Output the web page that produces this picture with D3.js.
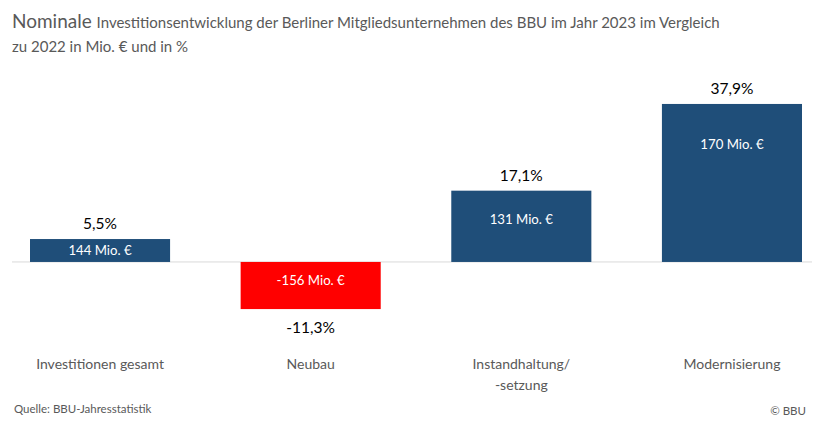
<!DOCTYPE html>
<html>
<head>
<meta charset="utf-8">
<script src="https://cdn.jsdelivr.net/npm/d3@7/dist/d3.min.js"></script>
<style>
  body { margin: 0; background: #fff; }
  svg { display: block; font-family: Lato, "Open Sans", sans-serif; }
</style>
</head>
<body>
<svg id="chart" width="826" height="424"></svg>
<script>
const categories = [["Investitionen gesamt"], ["Neubau"], ["Instandhaltung/", "-setzung"], ["Modernisierung"]];
const percentChange = [5.5, -11.3, 17.1, 37.9];
const percentLabels = ["5,5%", "-11,3%", "17,1%", "37,9%"];
const amountLabels = ["144 Mio. €", "-156 Mio. €", "131 Mio. €", "170 Mio. €"];

const svg = d3.select("#chart");

const x = d3.scaleBand()
  .domain(d3.range(categories.length))
  .range([30, 802])
  .paddingInner(0.335)
  .paddingOuter(0);

const y = d3.scaleLinear().domain([-15, 40]).range([324.5, 95.2]);

// Title
const title = svg.append("text").attr("x", 12).attr("y", 28).attr("fill", "#595959");
title.append("tspan").attr("font-size", 19).text("Nominale ");
title.append("tspan").attr("font-size", 15).text("Investitionsentwicklung der Berliner Mitgliedsunternehmen des BBU im Jahr 2023 im Vergleich");
svg.append("text").attr("x", 12).attr("y", 52).attr("fill", "#595959").attr("font-size", 15)
  .text("zu 2022 in Mio. € und in %");

// zero line
svg.append("line")
  .attr("x1", 12).attr("x2", 812)
  .attr("y1", y(0)).attr("y2", y(0))
  .attr("stroke", "#d9d9d9").attr("stroke-width", 1);

const data = percentChange.map((v, i) => ({ i, v }));

svg.selectAll("rect.bar").data(data).join("rect")
  .attr("class", "bar")
  .attr("x", d => x(d.i))
  .attr("width", x.bandwidth())
  .attr("y", d => Math.min(y(d.v), y(0)))
  .attr("height", d => Math.abs(y(d.v) - y(0)))
  .attr("fill", d => d.v < 0 ? "#ff0000" : "#1f4e79");

// percent labels
svg.selectAll("text.pct").data(data).join("text")
  .attr("class", "pct")
  .attr("x", d => x(d.i) + x.bandwidth() / 2)
  .attr("y", d => d.v >= 0 ? y(d.v) - 10 : y(d.v) + 24)
  .attr("text-anchor", "middle")
  .attr("font-size", 15.5)
  .attr("fill", "#000")
  .text(d => percentLabels[d.i]);

// amount labels inside bars
svg.selectAll("text.amt").data(data).join("text")
  .attr("class", "amt")
  .attr("x", d => x(d.i) + x.bandwidth() / 2)
  .attr("y", d => {
    const h = Math.abs(y(d.v) - y(0));
    const top = Math.min(y(d.v), y(0));
    const off = Math.min(h / 2, -33.5 + 14.52 * Math.log(h));
    return top + (d.v < 0 ? off - 4 : off);
  })
  .attr("dy", "0.35em")
  .attr("text-anchor", "middle")
  .attr("font-size", 13.2)
  .attr("fill", "#fff")
  .text(d => amountLabels[d.i]);

// category labels
const cat = svg.selectAll("text.cat").data(data).join("text")
  .attr("class", "cat")
  .attr("text-anchor", "middle")
  .attr("font-size", 14)
  .attr("fill", "#595959");
cat.each(function(d) {
  const t = d3.select(this);
  categories[d.i].forEach((line, k) => {
    t.append("tspan")
      .attr("x", x(d.i) + x.bandwidth() / 2)
      .attr("y", 369 + k * 21)
      .text(line);
  });
});

// footer
svg.append("text").attr("x", 14).attr("y", 413).attr("font-size", 11.5).attr("fill", "#595959")
  .text("Quelle: BBU-Jahresstatistik");
svg.append("text").attr("x", 806).attr("y", 415).attr("text-anchor", "end").attr("font-size", 11.5).attr("fill", "#595959")
  .text("© BBU");
</script>
</body>
</html>
